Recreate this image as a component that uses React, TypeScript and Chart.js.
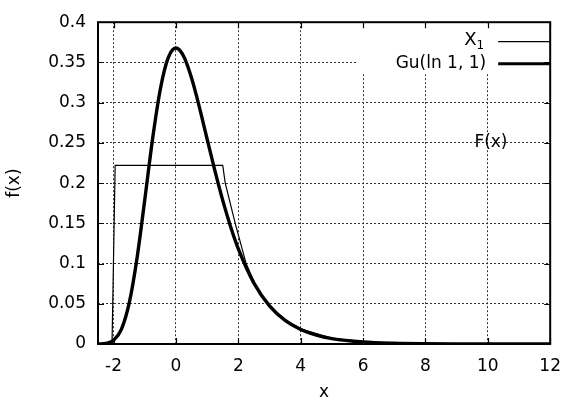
import React, { useEffect, useRef } from "react";
import { Chart, registerables } from "chart.js";

Chart.register(...registerables);

// Gumbel Gu(ln 1, 1) density
const GU_X = [-2.5, -2.25, -2.0, -1.75, -1.5, -1.25, -1.0, -0.75, -0.5, -0.25, 0, 0.25, 0.5, 0.75, 1.0, 1.25, 1.5, 1.75, 2.0, 2.5, 3.0, 3.5, 4.0, 4.5, 5.0, 6.0, 7.0, 8.0, 9.0, 10.0, 12.0];
const GU_Y = [0.0001, 0.0007, 0.0046, 0.0182, 0.0507, 0.1064, 0.1794, 0.2549, 0.317, 0.3556, 0.3679, 0.3574, 0.3307, 0.2945, 0.2546, 0.2151, 0.1785, 0.1461, 0.1182, 0.0756, 0.0474, 0.0293, 0.018, 0.011, 0.0067, 0.0025, 0.0009, 0.0003, 0.0001, 0.00005, 0.00001];

// X_1 (thin line)
const X1_X = [-2.5, -2.05, -1.95, 1.5, 1.58, 1.9, 2.25, 2.6, 3.0, 3.5, 4.0, 5.0, 6.0, 7.0, 8.0, 8.05, 12.0];
const X1_Y = [0, 0, 0.222, 0.222, 0.2, 0.15, 0.1, 0.069, 0.047, 0.03, 0.019, 0.007, 0.003, 0.0012, 0.0005, 0, 0];

const X_TICKS = [-2, 0, 2, 4, 6, 8, 10, 12];
const X_TICK_LABELS = ["-2", "0", "2", "4", "6", "8", "10", "12"];
const Y_TICKS = [0, 0.05, 0.1, 0.15, 0.2, 0.25, 0.3, 0.35, 0.4];
const Y_TICK_LABELS = ["0", "0.05", "0.1", "0.15", "0.2", "0.25", "0.3", "0.35", "0.4"];

const SERIES_NAMES = ["X", "Gu(ln 1, 1)"];
const ANNOTATION = { text: "F(x)", x: 10.1, y: 0.25 };

const FONT = "'DejaVu Sans', 'Liberation Sans', Arial, sans-serif";
const FS = 17;

const framePlugin = {
  id: "frame",
  afterDatasetsDraw(chart: any) {
    const { ctx, chartArea: a, scales } = chart;
    const xs = scales.x;
    const ys = scales.y;
    ctx.save();
    // legend box
    const lx0 = a.right - 194;
    const ly0 = a.top + 1;
    ctx.fillStyle = "#fff";
    ctx.fillRect(lx0, ly0, a.right - lx0 - 1, 50);

    // inward ticks
    ctx.strokeStyle = "#000";
    ctx.lineWidth = 1.2;
    const tl = 6;
    ctx.beginPath();
    X_TICKS.forEach((v) => {
      const px = Math.round(xs.getPixelForValue(v)) + 0.5;
      ctx.moveTo(px, a.bottom);
      ctx.lineTo(px, a.bottom - tl);
      ctx.moveTo(px, a.top);
      ctx.lineTo(px, a.top + tl);
    });
    Y_TICKS.forEach((v) => {
      const py = Math.round(ys.getPixelForValue(v)) + 0.5;
      ctx.moveTo(a.left, py);
      ctx.lineTo(a.left + tl, py);
      ctx.moveTo(a.right, py);
      ctx.lineTo(a.right - tl, py);
    });
    ctx.stroke();

    // border
    ctx.lineWidth = 2;
    ctx.strokeRect(a.left, a.top, a.right - a.left, a.bottom - a.top);

    // legend
    ctx.fillStyle = "#000";
    ctx.textAlign = "right";
    ctx.textBaseline = "middle";
    const textRight = a.right - 66;
    const y1 = a.top + 19;
    const y2 = a.top + 41;
    // X with subscript 1
    ctx.font = `12px ${FONT}`;
    ctx.fillText("1", textRight, y1 + 5);
    const subW = ctx.measureText("1").width;
    ctx.font = `18px ${FONT}`;
    ctx.fillText(SERIES_NAMES[0], textRight - subW, y1 - 1);
    ctx.font = `${FS}px ${FONT}`;
    ctx.fillText(SERIES_NAMES[1], textRight + 2, y2);

    ctx.beginPath();
    ctx.lineWidth = 1.2;
    ctx.moveTo(a.right - 52, y1 + 0.5);
    ctx.lineTo(a.right, y1 + 0.5);
    ctx.stroke();
    ctx.beginPath();
    ctx.lineWidth = 3;
    ctx.moveTo(a.right - 52, y2 + 0.5);
    ctx.lineTo(a.right, y2 + 0.5);
    ctx.stroke();

    // annotation
    ctx.textAlign = "center";
    ctx.fillText(ANNOTATION.text, xs.getPixelForValue(ANNOTATION.x), ys.getPixelForValue(ANNOTATION.y));
    ctx.restore();
  },
};

export default function App() {
  const ref = useRef<HTMLCanvasElement>(null);
  useEffect(() => {
    if (!ref.current) return;
    const gridOpts = {
      color: "#333",
      lineWidth: 1,
      drawTicks: false,
      tickLength: 0,
    };
    const borderOpts = { display: false, dash: [2, 2] };
    const chart = new Chart(ref.current, {
      type: "line",
      data: {
        datasets: [
          {
            label: "X1",
            data: X1_X.map((x, i) => ({ x, y: X1_Y[i] })),
            borderColor: "#000",
            borderWidth: 1.2,
            pointRadius: 0,
            tension: 0,
          },
          {
            label: "Gu(ln 1, 1)",
            data: GU_X.map((x, i) => ({ x, y: GU_Y[i] })),
            borderColor: "#000",
            borderWidth: 3.4,
            pointRadius: 0,
            cubicInterpolationMode: "monotone",
          },
        ],
      },
      options: {
        responsive: false,
        animation: false,
        layout: { padding: { top: 16, right: 16, left: 0, bottom: 0 } },
        plugins: { legend: { display: false }, tooltip: { enabled: false } },
        scales: {
          x: {
            type: "linear",
            min: -2.5,
            max: 12,
            afterBuildTicks: (s: any) => {
              s.ticks = X_TICKS.map((v) => ({ value: v }));
            },
            afterFit: (s: any) => {
              s.height = 57;
            },
            ticks: {
              padding: 12,
              color: "#000",
              font: { family: FONT, size: FS },
              callback: (v: any) => {
                const i = X_TICKS.indexOf(v);
                return i >= 0 ? X_TICK_LABELS[i] : "";
              },
              maxRotation: 0,
              autoSkip: false,
            },
            grid: gridOpts,
            border: borderOpts,
            title: {
              display: true,
              text: "x",
              color: "#000",
              font: { family: FONT, size: FS, lineHeight: 1 },
              padding: 0,
            },
          },
          y: {
            type: "linear",
            min: 0,
            max: 0.4,
            afterBuildTicks: (s: any) => {
              s.ticks = Y_TICKS.map((v) => ({ value: v }));
            },
            afterFit: (s: any) => {
              s.width = 98;
            },
            ticks: {
              padding: 12,
              color: "#000",
              font: { family: FONT, size: FS },
              callback: (v: any) => {
                const i = Y_TICKS.findIndex((t) => Math.abs(t - v) < 1e-9);
                return i >= 0 ? Y_TICK_LABELS[i] : "";
              },
              autoSkip: false,
            },
            grid: gridOpts,
            border: borderOpts,
            title: {
              display: true,
              text: "f(x)",
              color: "#000",
              font: { family: FONT, size: FS, lineHeight: 1 },
              padding: 6,
            },
          },
        },
      },
      plugins: [framePlugin],
    });
    return () => chart.destroy();
  }, []);
  return (
    <div style={{ position: "absolute", left: 0, top: 0, width: 573, height: 401, background: "#fff" }}>
      <canvas ref={ref} width={573} height={401} />
    </div>
  );
}
